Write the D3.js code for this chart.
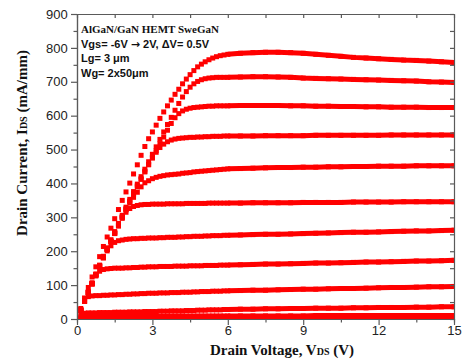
<!DOCTYPE html>
<html>
<head>
<meta charset="utf-8">
<script src="https://cdn.jsdelivr.net/npm/d3@7/dist/d3.min.js"></script>
<style>
  html, body { margin: 0; padding: 0; background: #fff; }
  svg { display: block; }
  .axis path, .axis line { stroke: #5a5a5a; stroke-width: 1.2; }
  .axis text { font-family: "Liberation Sans", Arial, sans-serif; font-size: 13px; fill: #222; }
</style>
</head>
<body>
<svg id="chart" width="463" height="363"></svg>
<script>
// drain voltage sweep (V)
const vds = [0, 0.15, 0.3, 0.45, 0.6, 0.75, 0.9, 1.05, 1.2, 1.35, 1.5, 1.65, 1.8, 1.95, 2.1, 2.25, 2.4, 2.55, 2.7, 2.85,
  3.0, 3.15, 3.3, 3.45, 3.6, 3.75, 3.9, 4.05, 4.2, 4.35, 4.5, 4.65, 4.8, 4.95, 5.1, 5.25, 5.4, 5.55, 5.7, 5.85, 6.0,
  6.5, 7, 7.5, 8, 8.5, 9, 9.5, 10, 10.5, 11, 11.5, 12, 12.5, 13, 13.5, 14, 14.5, 15];

// drain current (mA/mm), one list per gate voltage
const idsVg2p0 = [0, 31, 62, 93, 124, 154, 184, 214, 242, 268, 296, 323, 350, 375, 401, 428, 455, 483, 509, 532,
  552, 572, 592, 611, 629, 646, 663, 678, 694, 708, 721, 733, 744, 752, 759, 765, 770, 774, 777, 779, 781,
  784, 786, 787, 787, 786, 784, 781, 778, 775, 772, 770, 768, 766, 764, 763, 761, 759, 757];
const idsVg1p5 = [0, 27, 54, 81, 107, 133, 159, 185, 210, 234, 258, 282, 306, 330, 353, 376, 398, 420, 442, 464,
  486, 508, 530, 552, 574, 595, 616, 636, 655, 671, 684, 694, 701, 706, 709, 711, 712, 713, 713, 713, 713,
  714, 715, 715, 714, 713, 711, 710, 709, 708, 707, 706, 705, 704, 703, 702, 700, 699, 698];
const idsVg1p0 = [0, 26, 52, 78, 104, 130, 156, 181, 205, 229, 253, 277, 300, 323, 346, 368, 390, 412, 434, 455,
  476, 497, 517, 537, 557, 577, 594, 606, 614, 619, 622, 624, 625, 626, 627, 628, 628, 629, 629, 629, 629,
  630, 630, 630, 630, 629, 629, 628, 628, 627, 627, 626, 626, 625, 625, 625, 624, 624, 624];
const idsVg0p5 = [0, 26, 52, 78, 104, 130, 156, 182, 206, 230, 254, 278, 302, 326, 348, 370, 393, 414, 436, 456,
  475, 492, 506, 516, 523, 528, 531, 533, 534, 535, 536, 536, 537, 537, 538, 538, 539, 539, 539, 540, 540,
  540, 540, 541, 541, 541, 541, 542, 542, 542, 542, 542, 542, 543, 543, 543, 543, 543, 543];
const idsVg0p0 = [0, 26, 52, 78, 104, 130, 156, 182, 206, 230, 254, 277, 300, 322, 342, 359, 374, 390, 402, 408,
  414, 418, 421, 423, 425, 426, 427, 428, 430, 431, 432, 434, 435, 436, 437, 438, 439, 440, 441, 442, 443,
  444, 445, 446, 447, 447, 448, 448, 449, 449, 450, 450, 451, 451, 451, 452, 452, 452, 452];
const idsVgM0p5 = [0, 26, 52, 78, 104, 130, 156, 182, 206, 229, 252, 274, 297, 315, 326, 332, 335, 337, 338, 338,
  339, 339, 339, 339, 340, 340, 340, 340, 340, 341, 341, 341, 341, 341, 341, 342, 342, 342, 342, 342, 342,
  342, 343, 343, 343, 343, 344, 344, 344, 344, 345, 345, 345, 345, 346, 346, 346, 346, 346];
const idsVgM1p0 = [0, 26, 52, 78, 104, 130, 156, 180, 201, 216, 226, 231, 233, 235, 236, 237, 237, 238, 238, 239,
  239, 239, 240, 240, 241, 241, 241, 242, 242, 243, 243, 244, 244, 244, 245, 245, 246, 246, 246, 247, 247,
  248, 249, 250, 250, 251, 252, 253, 254, 255, 256, 256, 257, 258, 259, 260, 260, 261, 262];
const idsVgM1p5 = [0, 26, 52, 78, 104, 127, 141, 146, 148, 149, 150, 150, 150, 151, 151, 152, 152, 153, 153, 154,
  154, 154, 155, 155, 155, 155, 156, 156, 156, 156, 157, 157, 157, 157, 158, 158, 158, 158, 159, 159, 159,
  160, 161, 162, 162, 163, 164, 165, 165, 166, 167, 168, 168, 169, 170, 171, 171, 172, 173];
const idsVgM2p0 = [0, 26, 52, 66, 68, 69, 69, 70, 70, 71, 71, 72, 72, 73, 73, 74, 74, 75, 75, 76,
  76, 76, 77, 77, 77, 78, 78, 78, 79, 79, 79, 80, 80, 81, 81, 81, 82, 82, 82, 83, 83,
  84, 85, 85, 86, 87, 88, 88, 89, 90, 90, 91, 92, 93, 93, 94, 95, 95, 96];
const idsVgM2p5 = [0, 14, 17, 18, 18, 18, 19, 19, 19, 19, 20, 20, 20, 20, 21, 21, 21, 21, 22, 22,
  22, 22, 23, 23, 23, 24, 24, 24, 24, 25, 25, 25, 26, 26, 26, 27, 27, 27, 27, 28, 28,
  29, 29, 30, 30, 31, 31, 32, 32, 32, 33, 33, 34, 34, 34, 35, 35, 36, 36];
const idsVgM3p0 = [0, 6, 8, 8, 8, 8, 8, 8, 8, 8, 8, 8, 8, 8, 8, 8, 8, 8, 8, 8,
  8, 8, 8, 8, 8, 9, 9, 9, 9, 9, 9, 9, 9, 9, 9, 9, 9, 9, 9, 9, 9,
  9, 9, 9, 9, 9, 9, 10, 10, 10, 10, 10, 10, 10, 10, 10, 10, 10, 10];
const idsVgM3p5 = [0, 2, 3, 3, 3, 3, 3, 3, 3, 3, 3, 3, 3, 3, 3, 3, 3, 3, 3, 3,
  3, 3, 3, 3, 3, 3, 3, 3, 3, 3, 3, 3, 3, 3, 3, 3, 3, 3, 3, 3, 3,
  3, 3, 3, 3, 3, 3, 3, 3, 3, 3, 3, 3, 3, 3, 3, 3, 3, 3];
const idsCutoff = [0, 0, 0, 0, 0, 0, 0, 0, 0, 0, 0, 0, 0, 0, 0, 0, 0, 0, 0, 0,
  0, 0, 0, 0, 0, 0, 0, 0, 0, 0, 0, 0, 0, 0, 0, 0, 0, 0, 0, 0, 0,
  0, 0, 0, 0, 0, 0, 0, 0, 0, 0, 0, 0, 0, 0, 0, 0, 0, 0];

const vgsLevels = [2, 1.5, 1, 0.5, 0, -0.5, -1, -1.5, -2, -2.5, -3, -3.5, -4, -4.5, -5, -5.5, -6];
const idsByVgs = [idsVg2p0, idsVg1p5, idsVg1p0, idsVg0p5, idsVg0p0, idsVgM0p5, idsVgM1p0, idsVgM1p5, idsVgM2p0,
  idsVgM2p5, idsVgM3p0, idsVgM3p5, idsCutoff, idsCutoff, idsCutoff, idsCutoff, idsCutoff];

const xMajor = [0, 3, 6, 9, 12, 15];
const xMinor = [1.5, 4.5, 7.5, 10.5, 13.5];
const yMajor = [0, 100, 200, 300, 400, 500, 600, 700, 800, 900];
const yMinor = [50, 150, 250, 350, 450, 550, 650, 750, 850];

const svg = d3.select('#chart');
const x = d3.scaleLinear().domain([0, 15]).range([77, 454]);
const y = d3.scaleLinear().domain([0, 900]).range([319, 14]);
const serif = '"Liberation Serif", "Times New Roman", serif';
const sans = '"Liberation Sans", Arial, sans-serif';
const red = '#ff0000';
const box = 5;

svg.append('clipPath').attr('id', 'plot-clip')
  .append('rect').attr('x', x(0)).attr('y', y(900)).attr('width', x(15) - x(0)).attr('height', y(0) - y(900));

// curves
const plot = svg.append('g').attr('clip-path', 'url(#plot-clip)');
const line = d3.line().x((d) => x(d[0])).y((d) => y(d[1]));
idsByVgs.forEach((ids, k) => {
  const pts = vds.map((v, i) => [v, ids[i]]);
  const g = plot.append('g').attr('data-vgs', vgsLevels[k]);
  g.append('path')
    .attr('d', line(pts.filter((p) => p[0] >= 6)))
    .attr('fill', 'none').attr('stroke', red).attr('stroke-width', box);
  g.selectAll('rect').data(pts).join('rect')
    .attr('x', (d) => x(d[0]) - box / 2)
    .attr('y', (d) => y(d[1]) - box / 2)
    .attr('width', box).attr('height', box)
    .attr('fill', red);
});

// axes
const noLabel = () => '';
svg.append('g').attr('class', 'axis').attr('transform', `translate(0,${y(0)})`)
  .call(d3.axisBottom(x).tickValues(xMinor).tickSize(3.5).tickFormat(noLabel));
svg.append('g').attr('class', 'axis').attr('transform', `translate(0,${y(0)})`)
  .call(d3.axisBottom(x).tickValues(xMajor).tickSize(6).tickSizeOuter(0).tickPadding(1));
svg.append('g').attr('class', 'axis').attr('transform', `translate(0,${y(900)})`)
  .call(d3.axisTop(x).tickValues(xMajor.concat(xMinor)).tickSize(-4).tickSizeOuter(0).tickFormat(noLabel));
svg.append('g').attr('class', 'axis').attr('transform', `translate(${x(0)},0)`)
  .call(d3.axisLeft(y).tickValues(yMinor).tickSize(3.5).tickFormat(noLabel));
svg.append('g').attr('class', 'axis').attr('transform', `translate(${x(0)},0)`)
  .call(d3.axisLeft(y).tickValues(yMajor).tickSize(6).tickSizeOuter(0).tickPadding(3.3));
svg.append('g').attr('class', 'axis').attr('transform', `translate(${x(15)},0)`)
  .call(d3.axisRight(y).tickValues(yMajor.concat(yMinor)).tickSize(-4).tickSizeOuter(0).tickFormat(noLabel));

// axis titles
const xt = svg.append('text').attr('x', 282).attr('y', 355).attr('text-anchor', 'middle')
  .attr('font-family', serif).attr('font-weight', 'bold').attr('font-size', 15).attr('fill', '#111');
xt.append('tspan').text('Drain Voltage, V');
xt.append('tspan').attr('font-size', 10).text('DS');
xt.append('tspan').text(' (V)');

const yt = svg.append('text').attr('transform', 'translate(27,143) rotate(-90)').attr('text-anchor', 'middle')
  .attr('font-family', serif).attr('font-weight', 'bold').attr('font-size', 15).attr('fill', '#111');
yt.append('tspan').text('Drain Current, I');
yt.append('tspan').attr('font-size', 10).text('DS');
yt.append('tspan').text(' (mA/mm)');

// device notes
const noteStyle = (sel, family) => sel.attr('x', 81).attr('font-family', family)
  .attr('font-weight', 'bold').attr('font-size', 11).attr('fill', '#111');
noteStyle(svg.append('text').attr('y', 33), serif).text('AlGaN/GaN HEMT SweGaN');
const vgsNote = noteStyle(svg.append('text').attr('y', 47.5), sans);
vgsNote.append('tspan').text('Vgs= -6V ');
vgsNote.append('tspan').attr('font-family', '"DejaVu Sans", sans-serif').text('\u2192');
vgsNote.append('tspan').text(' 2V, \u0394V= 0.5V');
noteStyle(svg.append('text').attr('y', 62), sans).text('Lg= 3 \u03bcm');
noteStyle(svg.append('text').attr('y', 76.5), sans).text('Wg= 2x50\u03bcm');
</script>
</body>
</html>
